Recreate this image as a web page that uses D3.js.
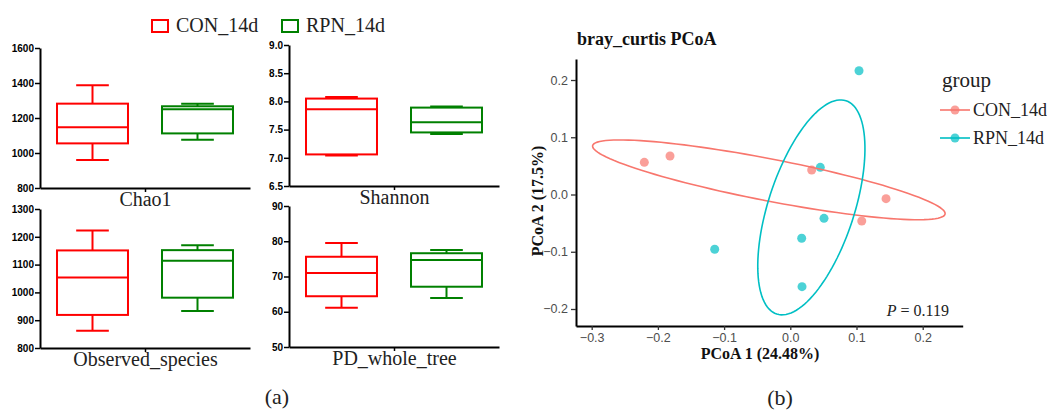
<!DOCTYPE html>
<html>
<head>
<meta charset="utf-8">
<script src="https://d3js.org/d3.v7.min.js"></script>
<style>
body { margin: 0; background: #fff; }
</style>
</head>
<body>
<div id="chart"></div>
<script>
var groups = ["CON_14d", "RPN_14d"];
var metrics = ["Chao1", "Shannon", "Observed_species", "PD_whole_tree"];
// [min, q1, median, q3, max] per group
var chao1 = [[960, 1055, 1147, 1282, 1387], [1076, 1112, 1250, 1267, 1282]];
var shannon = [[7.04, 7.06, 7.86, 8.05, 8.08], [7.42, 7.45, 7.63, 7.89, 7.91]];
var observed = [[862, 919, 1054, 1151, 1223], [933, 981, 1114, 1152, 1170]];
var pdTree = [[61.1, 64.4, 71.0, 75.6, 79.5], [63.9, 67.1, 74.7, 76.6, 77.5]];
var chao1Ticks = [800, 1000, 1200, 1400, 1600];
var shannonTicks = [6.5, 7.0, 7.5, 8.0, 8.5, 9.0];
var observedTicks = [800, 900, 1000, 1100, 1200, 1300];
var pdTicks = [50, 60, 70, 80, 90];

var conPC1 = [-0.2205, -0.1817, 0.0323, 0.1446, 0.1079];
var conPC2 = [0.0562, 0.0672, 0.0428, -0.0073, -0.0463];
var rpnPC1 = [0.1038, 0.0453, 0.0509, 0.0172, 0.0177, -0.1142];
var rpnPC2 = [0.2162, 0.0475, -0.0416, -0.0765, -0.161, -0.0957];
// ellipse: centre, semi-axis 1, semi-axis 2 (data units)
var conEllipse = [[-0.0324, 0.0256], [0.2662, -0.0597], [-0.0060, -0.0360]];
var rpnEllipse = [[0.0318, -0.0225], [0.0523, 0.1863], [0.0618, -0.0232]];
var pcoaXTicks = [-0.3, -0.2, -0.1, 0.0, 0.1, 0.2];
var pcoaYTicks = [-0.2, -0.1, 0.0, 0.1, 0.2];
var pValue = "0.119";

var boxColors = ["#ff0000", "#008000"];
var pcoaColors = ["#f8766d", "#00bfc4"];
var serif = "'Liberation Serif', serif";
var sans = "'Liberation Sans', Arial, sans-serif";

var svg = d3.select("#chart")
  .append("svg")
    .attr("width", 1047)
    .attr("height", 414);

// ---------- (a) box plots ----------
var panels = [
  {data: chao1, ticks: chao1Ticks, left: 40, top: 48, bottom: 188},
  {data: shannon, ticks: shannonTicks, left: 289, top: 45, bottom: 186},
  {data: observed, ticks: observedTicks, left: 40, top: 209, bottom: 348},
  {data: pdTree, ticks: pdTicks, left: 289, top: 206, bottom: 347}
];
var panelWidth = 210;

panels.forEach(function(p, i) {
  var g = svg.append("g")
    .attr("transform", "translate(" + p.left + ",0)");

  var x = d3.scaleBand()
    .domain(groups)
    .range([0, panelWidth])
    .paddingInner(0.324)
    .paddingOuter(0.162);
  var y = d3.scaleLinear()
    .domain([p.ticks[0], p.ticks[p.ticks.length - 1]])
    .range([p.bottom, p.top]);

  var yAxis = g.append("g")
    .call(d3.axisLeft(y).tickValues(p.ticks).tickSize(5).tickSizeOuter(0).tickPadding(1)
      .tickFormat(d3.format(p.ticks[0] < 10 ? ".1f" : "d")));
  yAxis.select(".domain").attr("stroke-width", 2);
  yAxis.selectAll(".tick line").attr("stroke-width", 1.5);
  yAxis.selectAll("text")
    .style("font-family", sans)
    .style("font-weight", "bold")
    .style("font-size", "10px")
    .attr("fill", "#000");

  var xc = d3.scalePoint().domain([metrics[i]]).range([0, panelWidth]).padding(0.5);
  var xAxis = g.append("g")
    .attr("transform", "translate(0," + p.bottom + ")")
    .call(d3.axisBottom(xc).tickSize(4).tickSizeOuter(0).tickPadding(0));
  xAxis.select(".domain").attr("stroke-width", 2);
  xAxis.selectAll(".tick line").attr("stroke-width", 1.5);
  xAxis.selectAll("text")
    .style("font-family", serif)
    .style("font-size", "20px")
    .attr("fill", "#222");

  var bw = x.bandwidth();
  var box = g.selectAll(".box")
    .data(p.data)
    .enter()
    .append("g")
      .attr("fill", "none")
      .attr("stroke", function(d, j) { return boxColors[j]; })
      .attr("stroke-width", 2);

  box.append("line")
    .attr("x1", function(d, j) { return x(groups[j]) + bw / 2; })
    .attr("x2", function(d, j) { return x(groups[j]) + bw / 2; })
    .attr("y1", function(d) { return y(d[4]); })
    .attr("y2", function(d) { return y(d[3]); });
  box.append("line")
    .attr("x1", function(d, j) { return x(groups[j]) + bw / 2; })
    .attr("x2", function(d, j) { return x(groups[j]) + bw / 2; })
    .attr("y1", function(d) { return y(d[1]); })
    .attr("y2", function(d) { return y(d[0]); });
  [0, 4].forEach(function(k) {
    box.append("line")
      .attr("x1", function(d, j) { return x(groups[j]) + bw / 2 - bw * 0.23; })
      .attr("x2", function(d, j) { return x(groups[j]) + bw / 2 + bw * 0.23; })
      .attr("y1", function(d) { return y(d[k]); })
      .attr("y2", function(d) { return y(d[k]); });
  });
  box.append("rect")
    .attr("x", function(d, j) { return x(groups[j]); })
    .attr("width", bw)
    .attr("y", function(d) { return y(d[3]); })
    .attr("height", function(d) { return y(d[1]) - y(d[3]); });
  box.append("line")
    .attr("x1", function(d, j) { return x(groups[j]); })
    .attr("x2", function(d, j) { return x(groups[j]) + bw; })
    .attr("y1", function(d) { return y(d[2]); })
    .attr("y2", function(d) { return y(d[2]); });
});

// legend for (a)
var legA = svg.append("g");
var legAx = [152, 282];
groups.forEach(function(gname, j) {
  legA.append("rect")
    .attr("x", legAx[j]).attr("y", 20)
    .attr("width", 16).attr("height", 12)
    .attr("fill", "none")
    .attr("stroke", boxColors[j])
    .attr("stroke-width", 2);
  legA.append("text")
    .attr("x", legAx[j] + 24).attr("y", 32)
    .style("font-family", serif)
    .style("font-size", "20px")
    .attr("fill", "#222")
    .text(gname);
});

svg.append("text")
  .attr("x", 277).attr("y", 404)
  .attr("text-anchor", "middle")
  .style("font-family", serif)
  .style("font-size", "22px")
  .attr("fill", "#222")
  .text("(a)");

// ---------- (b) PCoA ----------
var px = d3.scaleLinear()
  .domain([-0.3237, 0.2604])
  .range([576, 962.7]);
var py = d3.scaleLinear()
  .domain([-0.2297, 0.2367])
  .range([326, 59]);

function ellipsePoints(e) {
  return d3.range(0, 361, 3).map(function(a) {
    var t = a * Math.PI / 180;
    return [e[0][0] + e[1][0] * Math.cos(t) + e[2][0] * Math.sin(t),
            e[0][1] + e[1][1] * Math.cos(t) + e[2][1] * Math.sin(t)];
  });
}
var line = d3.line()
  .x(function(d) { return px(d[0]); })
  .y(function(d) { return py(d[1]); })
  .curve(d3.curveLinearClosed);

var pg = svg.append("g");

var conPts = conPC1.map(function(v, k) { return [v, conPC2[k]]; });
var rpnPts = rpnPC1.map(function(v, k) { return [v, rpnPC2[k]]; });

[conPts, rpnPts].forEach(function(pts, j) {
  pg.append("g")
    .selectAll("circle")
    .data(pts)
    .enter()
    .append("circle")
      .attr("cx", function(d) { return px(d[0]); })
      .attr("cy", function(d) { return py(d[1]); })
      .attr("r", 4.5)
      .style("fill", pcoaColors[j])
      .style("opacity", 0.7);
});

[conEllipse, rpnEllipse].forEach(function(e, j) {
  pg.append("path")
    .attr("d", line(ellipsePoints(e)))
    .attr("fill", "none")
    .attr("stroke", pcoaColors[j])
    .attr("stroke-width", 1.6);
});

var pxAxis = svg.append("g")
  .attr("transform", "translate(0,326)")
  .call(d3.axisBottom(px).tickValues(pcoaXTicks).tickSize(4).tickSizeOuter(0).tickPadding(3)
    .tickFormat(d3.format(".1f")));
var pyAxis = svg.append("g")
  .attr("transform", "translate(576,0)")
  .call(d3.axisLeft(py).tickValues(pcoaYTicks).tickSize(5).tickSizeOuter(0).tickPadding(3)
    .tickFormat(d3.format(".1f")));
[pxAxis, pyAxis].forEach(function(a) {
  a.select(".domain").attr("stroke-width", 2);
  a.selectAll(".tick line").attr("stroke", "#333").attr("stroke-width", 1.3);
  a.selectAll("text")
    .style("font-family", sans)
    .style("font-size", "12.5px")
    .attr("fill", "#4d4d4d");
});

svg.append("text")
  .attr("x", 577).attr("y", 45)
  .style("font-family", serif)
  .style("font-weight", "bold")
  .style("font-size", "18px")
  .attr("fill", "#111")
  .text("bray_curtis PCoA");

svg.append("text")
  .attr("x", 760).attr("y", 359)
  .attr("text-anchor", "middle")
  .style("font-family", serif)
  .style("font-weight", "bold")
  .style("font-size", "16px")
  .attr("fill", "#111")
  .text("PCoA 1 (24.48%)");

svg.append("text")
  .attr("transform", "translate(543,201) rotate(-90)")
  .attr("text-anchor", "middle")
  .style("font-family", serif)
  .style("font-weight", "bold")
  .style("font-size", "16px")
  .attr("fill", "#111")
  .text("PCoA 2 (17.5%)");

var ptext = svg.append("text")
  .attr("x", 949).attr("y", 316)
  .attr("text-anchor", "end")
  .style("font-family", serif)
  .style("font-size", "16px")
  .attr("fill", "#222");
ptext.append("tspan").style("font-style", "italic").text("P");
ptext.append("tspan").text(" = " + pValue);

// legend for (b)
svg.append("text")
  .attr("x", 942).attr("y", 87)
  .style("font-family", serif)
  .style("font-size", "21px")
  .attr("fill", "#222")
  .text("group");
var legBy = [110, 138];
groups.forEach(function(gname, j) {
  svg.append("line")
    .attr("x1", 940).attr("x2", 970)
    .attr("y1", legBy[j]).attr("y2", legBy[j])
    .attr("stroke", pcoaColors[j])
    .attr("stroke-width", 1.6);
  svg.append("circle")
    .attr("cx", 955).attr("cy", legBy[j])
    .attr("r", 4.5)
    .style("fill", pcoaColors[j])
    .style("opacity", 0.7);
  svg.append("text")
    .attr("x", 973).attr("y", legBy[j] + 6)
    .style("font-family", serif)
    .style("font-size", "18px")
    .attr("fill", "#222")
    .text(gname);
});

svg.append("text")
  .attr("x", 780).attr("y", 405)
  .attr("text-anchor", "middle")
  .style("font-family", serif)
  .style("font-size", "22px")
  .attr("fill", "#222")
  .text("(b)");
</script>
</body>
</html>
